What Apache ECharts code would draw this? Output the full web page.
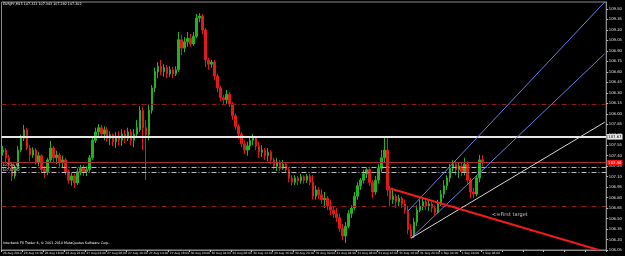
<!DOCTYPE html>
<html><head><meta charset="utf-8">
<script src="https://cdn.jsdelivr.net/npm/echarts@6/dist/echarts.min.js"></script>
<style>html,body{margin:0;padding:0;background:#000;}#c{width:625px;height:256px;}</style>
</head><body><div id="c"></div>
<script>
// ---- data ----
const xTickLabels = ["26 Aug 2010","26 Aug 14:00","26 Aug 18:00","26 Aug 22:00","27 Aug 02:00","27 Aug 06:00","27 Aug 10:00","27 Aug 14:00","27 Aug 18:00","30 Aug 00:00","30 Aug 04:00","30 Aug 08:00","30 Aug 12:00","30 Aug 16:00","30 Aug 20:00","31 Aug 00:00","31 Aug 04:00","31 Aug 08:00","31 Aug 12:00","31 Aug 16:00","31 Aug 20:00","1 Sep 00:00","1 Sep 04:00","1 Sep 08:00"];
const barsPerLabel = 7;
const totalSlots = 203;

const opens = [107.45,107.48,107.37,107.27,107.11,107.22,107.48,107.65,107.77,107.51,
107.41,107.48,107.31,107.40,107.20,107.17,107.34,107.51,107.37,107.41,
107.30,107.34,107.17,107.05,107.11,107.01,107.17,107.22,107.17,107.20,
107.37,107.62,107.74,107.80,107.71,107.77,107.65,107.70,107.60,107.68,
107.62,107.71,107.65,107.74,107.62,107.71,107.77,108.05,107.80,107.70,
108.05,108.37,108.60,108.68,108.60,108.66,108.57,108.63,108.57,108.63,
109.06,108.94,109.03,109.08,109.00,109.11,109.37,109.40,109.20,108.77,
108.71,108.74,108.54,108.37,108.23,108.20,108.28,108.14,107.97,107.82,
107.71,107.57,107.48,107.54,107.62,107.65,107.54,107.45,107.48,107.40,
107.45,107.34,107.25,107.31,107.22,107.28,107.20,107.08,107.02,107.08,
107.04,107.10,107.05,107.11,107.02,106.82,106.91,106.84,106.77,106.79,
106.68,106.62,106.57,106.51,106.36,106.25,106.39,106.57,106.65,106.82,
106.97,107.05,107.14,107.20,107.02,106.88,107.05,107.22,107.37,107.48,
106.91,106.77,106.82,106.74,106.79,106.71,106.62,106.34,106.25,106.45,
106.62,106.68,106.74,106.68,106.71,106.65,106.59,106.71,106.85,106.97,
107.08,107.22,107.28,107.20,107.25,107.17,107.28,107.05,106.88,106.85,
107.08,107.34];
const closes = [107.48,107.37,107.27,107.11,107.22,107.48,107.65,107.77,107.51,107.41,
107.48,107.31,107.40,107.20,107.17,107.34,107.51,107.37,107.41,107.30,
107.34,107.17,107.05,107.11,107.01,107.17,107.22,107.17,107.20,107.37,
107.62,107.74,107.80,107.71,107.77,107.65,107.70,107.60,107.68,107.62,
107.71,107.65,107.74,107.62,107.71,107.80,108.05,107.80,107.70,108.05,
108.37,108.60,108.68,108.60,108.66,108.57,108.63,108.57,108.63,109.06,
108.94,109.03,109.08,109.00,109.11,109.37,109.40,109.20,108.77,108.71,
108.74,108.54,108.37,108.23,108.20,108.28,108.14,107.97,107.82,107.71,
107.57,107.48,107.54,107.62,107.65,107.54,107.45,107.48,107.40,107.45,
107.34,107.25,107.31,107.22,107.28,107.20,107.08,107.02,107.08,107.04,
107.10,107.05,107.11,107.02,106.82,106.91,106.84,106.77,106.79,106.68,
106.62,106.57,106.51,106.36,106.25,106.39,106.57,106.65,106.82,106.97,
107.05,107.14,107.20,107.02,106.88,107.05,107.22,107.37,107.48,106.91,
106.77,106.82,106.74,106.79,106.71,106.62,106.34,106.25,106.45,106.62,
106.68,106.74,106.68,106.71,106.65,106.59,106.71,106.85,106.97,107.08,
107.22,107.28,107.20,107.25,107.17,107.28,107.05,106.88,106.85,107.08,
107.34,107.30];
const lows = [107.40,107.31,107.22,107.04,107.07,107.20,107.45,107.61,107.48,107.32,
107.37,107.27,107.25,107.15,107.08,107.12,107.31,107.31,107.28,107.24,
107.22,107.12,107.00,106.97,106.94,106.98,107.12,107.11,107.11,107.17,
107.34,107.58,107.68,107.67,107.62,107.60,107.55,107.54,107.51,107.55,
107.54,107.58,107.61,107.55,107.52,107.68,107.74,107.48,107.05,107.62,
108.00,108.31,108.51,108.55,108.53,108.51,108.53,108.51,108.54,108.60,
108.84,108.88,108.96,108.96,108.97,109.08,109.31,109.14,108.67,108.63,
108.66,108.48,108.31,108.18,108.13,108.14,108.10,107.91,107.77,107.64,
107.52,107.42,107.40,107.48,107.55,107.48,107.37,107.38,107.34,107.32,
107.28,107.20,107.18,107.18,107.20,107.15,107.02,106.97,106.98,106.98,
107.00,107.00,107.01,106.98,106.77,106.77,106.78,106.71,106.65,106.62,
106.55,106.51,106.45,106.31,106.19,106.15,106.36,106.51,106.62,106.77,
106.91,107.00,107.08,106.97,106.79,106.84,107.00,107.17,107.31,106.82,
106.68,106.71,106.65,106.68,106.65,106.57,106.28,106.22,106.22,106.39,
106.59,106.62,106.62,106.61,106.59,106.55,106.57,106.68,106.79,106.91,
107.02,107.17,107.12,107.08,107.11,107.12,107.00,106.79,106.79,106.82,
107.02,107.25];
const highs = [107.54,107.51,107.41,107.30,107.27,107.54,107.70,107.84,107.80,107.55,
107.52,107.51,107.45,107.42,107.25,107.37,107.61,107.54,107.47,107.44,
107.40,107.37,107.20,107.15,107.14,107.22,107.27,107.27,107.25,107.41,
107.68,107.80,107.85,107.84,107.82,107.81,107.75,107.72,107.74,107.75,
107.78,107.77,107.80,107.78,107.78,107.91,108.11,108.10,107.91,108.13,
108.41,108.66,108.74,108.77,108.71,108.70,108.68,108.67,108.68,109.17,
109.13,109.10,109.17,109.14,109.17,109.43,109.44,109.43,109.23,108.80,
108.77,108.77,108.57,108.40,108.27,108.34,108.31,108.17,108.00,107.85,
107.74,107.62,107.60,107.68,107.71,107.68,107.60,107.55,107.51,107.51,
107.48,107.37,107.37,107.34,107.34,107.31,107.22,107.12,107.12,107.11,
107.14,107.12,107.14,107.14,107.12,106.97,106.95,106.92,106.88,106.82,
106.77,106.68,106.65,106.57,106.42,106.45,106.62,106.69,106.88,107.02,
107.08,107.20,107.22,107.22,107.05,107.11,107.28,107.48,107.68,107.65,
106.97,106.94,106.85,106.84,106.82,106.77,106.68,106.42,106.51,106.69,
106.77,106.79,106.78,106.77,106.74,106.69,106.77,106.91,107.05,107.12,
107.28,107.34,107.32,107.31,107.31,107.37,107.32,107.08,106.94,107.12,
107.41,107.41];

// horizontal levels (price)
const whiteLevel = 107.67;
const bidLevel = 107.30;
const greyDash1 = 107.24;
const greyDash2 = 107.17;
const redDash1 = 108.14;
const redDash2 = 106.67;
// trend lines: [barIndex, price] pairs
const upperBlue = [[136, 106.61], [202, 109.60]];
const lowerBlue = [[137, 106.22], [202, 108.86]];
const whiteTrend = [[137, 106.22], [202, 107.88]];
const redTrend = [[130, 106.93], [200, 106.05]];
// y axis
const yMin = 106.05, yMax = 109.60, yStep = 0.15;

const titleText = "EURJPY,M15 107.323 107.343 107.292 107.302";
const footerText = "Interbank FX Trader 4, \u00a9 2001-2010 MetaQuotes Software Corp.";
const noteText = "<=First target";
const greyDashText1 = "107.24_S1";
const greyDashText2 = "107.17_S2";

// ---- build ----
const categories = [];
for (let i = 0; i < totalSlots; i++) {
  categories.push(i % barsPerLabel === 0 && xTickLabels[i / barsPerLabel] ? xTickLabels[i / barsPerLabel] : '');
}
const candles = opens.map((o, i) => [o, closes[i], lows[i], highs[i]]);
const FONT = 'DejaVu Sans';
const SMALL = 3.3;

function hLine(v, color, width, type, label) {
  const it = {yAxis: v, lineStyle: {color: color, width: width, type: type}, label: {show: false}};
  if (label) it.label = label;
  return it;
}
function tLine(pts, color, width) {
  return [{coord: pts[0], lineStyle: {color: color, width: width, type: 'solid'}, label: {show: false}}, {coord: pts[1]}];
}
const dashDot = [5, 2, 1, 2];

const chart = echarts.init(document.getElementById('c'), null, {renderer: 'canvas'});
chart.setOption({
  backgroundColor: '#000000',
  animation: false,
  textStyle: {fontFamily: FONT},
  grid: {left: 1, right: 13, top: 2, bottom: 6, show: true, borderColor: '#8c8c8c', borderWidth: 1, backgroundColor: '#000'},
  xAxis: {
    type: 'category', data: categories, boundaryGap: true,
    axisLine: {lineStyle: {color: '#8c8c8c'}},
    axisTick: {show: true, interval: barsPerLabel - 1, length: 2, lineStyle: {color: '#bbbbbb'}},
    axisLabel: {interval: barsPerLabel - 1, fontSize: 2.9, color: '#e0e0e0', align: 'left', margin: 1.8, fontFamily: FONT},
    splitLine: {show: false}
  },
  yAxis: {
    type: 'value', position: 'right', min: yMin, max: yMax, interval: yStep, scale: true,
    axisLine: {show: true, lineStyle: {color: '#8c8c8c'}},
    axisTick: {show: true, length: 2, lineStyle: {color: '#bbbbbb'}},
    axisLabel: {fontSize: 3.8, color: '#e0e0e0', margin: 2.5, showMaxLabel: false, fontFamily: FONT,
      formatter: v => v.toFixed(2)},
    splitLine: {show: false}
  },
  series: [{
    type: 'candlestick',
    data: candles,
    barWidth: 2,
    itemStyle: {color: '#21b121', color0: '#e01a1a', borderColor: '#21b121', borderColor0: '#e01a1a', borderWidth: 1},
    markLine: {
      silent: true, symbol: ['none', 'none'], animation: false,
      data: [
        hLine(redDash1, '#8e1c1c', 1, dashDot),
        hLine(redDash2, '#8e1c1c', 1, dashDot),
        hLine(greyDash1, '#bdbdbd', 1, dashDot, {show: true, position: 'insideStartTop', formatter: greyDashText1, fontSize: SMALL, color: '#e0e0e0', distance: [1, 0.5], fontFamily: FONT}),
        hLine(greyDash2, '#bdbdbd', 1, dashDot, {show: true, position: 'insideStartTop', formatter: greyDashText2, fontSize: SMALL, color: '#e0e0e0', distance: [1, 0.5], fontFamily: FONT}),
        hLine(bidLevel, '#a83030', 1, 'solid', {show: true, position: 'end', formatter: bidLevel.toFixed(2), fontSize: 3.8, color: '#ffffff', backgroundColor: '#ff1010', padding: [1, 1, 0.5, 1], distance: 1, fontFamily: FONT}),
        hLine(whiteLevel, '#e8e8e8', 2, 'solid', {show: true, position: 'end', formatter: whiteLevel.toFixed(2), fontSize: 3.8, color: '#000000', backgroundColor: '#e8e8e8', padding: [1, 1, 0.5, 1], distance: 1, fontFamily: FONT}),
        tLine(upperBlue, '#6b7fe0', 1),
        tLine(lowerBlue, '#6b7fe0', 1),
        tLine(whiteTrend, '#d6d6d6', 1),
        tLine(redTrend, '#f01c1c', 2)
      ]
    }
  }],
  graphic: [
    {type: 'text', left: 3, top: 3, style: {text: titleText, fontSize: SMALL, fill: '#ffffff', fontFamily: FONT}},
    {type: 'text', left: 3, top: 242, style: {text: footerText, fontSize: SMALL, fill: '#ffffff', fontFamily: FONT}},
    {type: 'text', left: 492, top: 212, style: {text: noteText, fontSize: 5, fill: '#c8c8c8', fontFamily: FONT}}
  ]
});
</script>
</body></html>
